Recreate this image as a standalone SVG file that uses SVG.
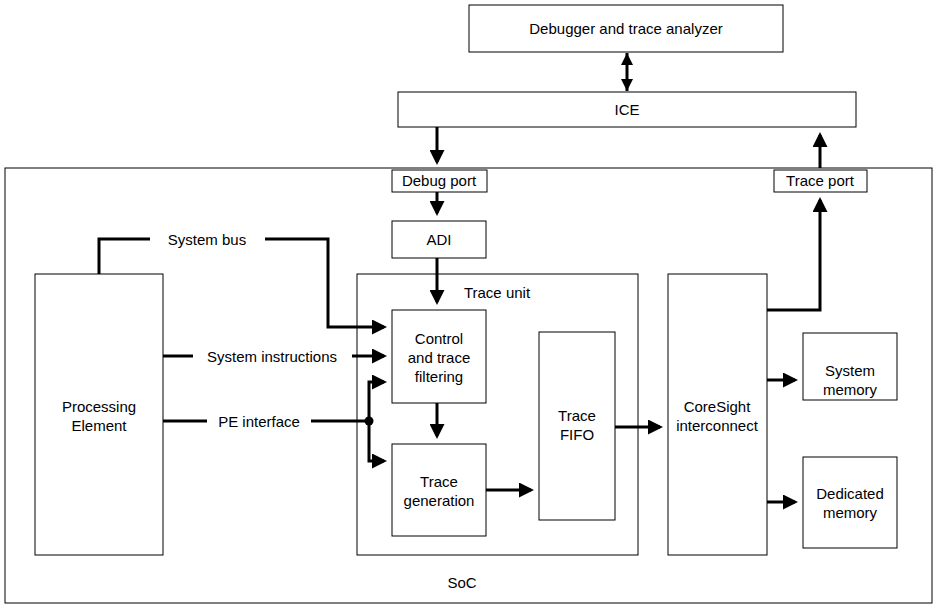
<svg xmlns="http://www.w3.org/2000/svg" width="938" height="608" viewBox="0 0 938 608">
<style>
rect{fill:#fff;stroke:#000;stroke-width:1}
text{font-family:"Liberation Sans",Arial,sans-serif;font-size:15px;text-anchor:middle;fill:#000}
.c{fill:none;stroke:#000;stroke-width:3}
</style>
<defs><marker id="a" markerWidth="5" markerHeight="5" refX="4" refY="2.5" orient="auto-start-reverse" markerUnits="strokeWidth"><path d="M0,0L5,2.5L0,5z" fill="#000"/></marker>
<marker id="b" markerWidth="4" markerHeight="4" refX="4" refY="2" orient="auto-start-reverse" markerUnits="strokeWidth"><path d="M0,0L4,2L0,4z" fill="#000"/></marker></defs>
<rect x="0" y="0" width="938" height="608" style="stroke:none"/>
<g id="soc"><rect x="5" y="168" width="927" height="435"/><text x="462" y="588">SoC</text></g>
<g id="debugger"><rect x="469" y="5" width="314" height="47"/><text x="626" y="34">Debugger and trace analyzer</text></g>
<g id="ice"><rect x="398" y="92" width="458" height="35"/><text x="627" y="115">ICE</text></g>
<g id="debugport"><rect x="392" y="170" width="95" height="22"/><text x="439" y="186">Debug port</text></g>
<g id="traceport"><rect x="774" y="170" width="93" height="22"/><text x="820" y="186">Trace port</text></g>
<g id="adi"><rect x="392" y="221" width="94" height="37"/><text x="439" y="245">ADI</text></g>
<g id="traceunit"><rect x="357" y="274" width="281" height="281"/><text x="497" y="298">Trace unit</text></g>
<g id="control"><rect x="392" y="310" width="94" height="93"/><text x="439" y="344">Control</text><text x="439" y="363">and trace</text><text x="439" y="382">filtering</text></g>
<g id="tracegen"><rect x="392" y="444" width="94" height="92"/><text x="439" y="487">Trace</text><text x="439" y="506">generation</text></g>
<g id="fifo"><rect x="539" y="332" width="76" height="188"/><text x="577" y="421">Trace</text><text x="577" y="440">FIFO</text></g>
<g id="coresight"><rect x="668" y="274" width="99" height="281"/><text x="717" y="412">CoreSight</text><text x="717" y="431">interconnect</text></g>
<g id="sysmem"><rect x="803" y="333" width="94" height="67"/><text x="850" y="376">System</text><text x="850" y="395">memory</text></g>
<g id="dedmem"><rect x="803" y="457" width="94" height="91"/><text x="850" y="499">Dedicated</text><text x="850" y="518">memory</text></g>
<g id="pe"><rect x="35" y="274" width="128" height="281"/><text x="99" y="412">Processing</text><text x="99" y="431">Element</text></g>
<g id="connectors">
<path class="c" d="M627,53V91" marker-start="url(#b)" marker-end="url(#b)"/>
<path class="c" d="M437,127V162" marker-end="url(#a)"/>
<path class="c" d="M437,192V213" marker-end="url(#a)"/>
<path class="c" d="M437,258V302" marker-end="url(#a)"/>
<path class="c" d="M820,168V135" marker-end="url(#a)"/>
<path class="c" d="M767,310H820V200" marker-end="url(#a)"/>
<path class="c" d="M99,274V239H150"/>
<path class="c" d="M265,239H328V327H384" marker-end="url(#a)"/>
<text x="207" y="245">System bus</text>
<path class="c" d="M163,356H193"/>
<path class="c" d="M352,356H384" marker-end="url(#a)"/>
<text x="272" y="362">System instructions</text>
<path class="c" d="M163,421H207"/>
<path class="c" d="M311,421H369"/>
<text x="259" y="427">PE interface</text>
<path class="c" d="M369,421V382H384" marker-end="url(#a)"/>
<path class="c" d="M369,421V461H384" marker-end="url(#a)"/>
<circle cx="369" cy="421" r="4.5" fill="#000"/>
<path class="c" d="M437,403V436" marker-end="url(#a)"/>
<path class="c" d="M486,490H531" marker-end="url(#a)"/>
<path class="c" d="M615,427H660" marker-end="url(#a)"/>
<path class="c" d="M767,380H795" marker-end="url(#a)"/>
<path class="c" d="M767,502H795" marker-end="url(#a)"/>
</g>
</svg>
